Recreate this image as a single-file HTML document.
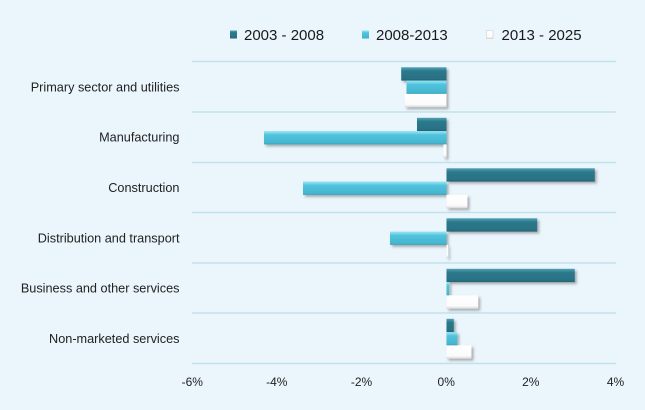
<!DOCTYPE html>
<html><head><meta charset="utf-8"><style>
html,body{margin:0;padding:0;background:#eaf5fc;}
svg{display:block;}
text{font-family:"Liberation Sans",sans-serif;}
</style></head><body>
<svg width="645" height="410" viewBox="0 0 645 410" xmlns="http://www.w3.org/2000/svg">
<defs>
<linearGradient id="gd" x1="0" y1="0" x2="0" y2="1">
<stop offset="0" stop-color="#4f9fb3"/><stop offset="0.18" stop-color="#3a8a9e"/><stop offset="0.25" stop-color="#2d798c"/><stop offset="0.85" stop-color="#2a7184"/><stop offset="1" stop-color="#226275"/>
</linearGradient>
<linearGradient id="gc" x1="0" y1="0" x2="0" y2="1">
<stop offset="0" stop-color="#95e2f1"/><stop offset="0.18" stop-color="#70d4e9"/><stop offset="0.26" stop-color="#52c4dd"/><stop offset="0.85" stop-color="#46b7d1"/><stop offset="1" stop-color="#3aa6c0"/>
</linearGradient>
<linearGradient id="gw" x1="0" y1="0" x2="0" y2="1">
<stop offset="0" stop-color="#ffffff"/><stop offset="0.8" stop-color="#fbfbfb"/><stop offset="1" stop-color="#d6d6d6"/>
</linearGradient>
<filter id="sh" x="-10%" y="-30%" width="130%" height="180%">
<feDropShadow dx="2" dy="2" stdDeviation="1.3" flood-color="#555" flood-opacity="0.45"/>
</filter>
</defs>
<rect width="645" height="410" fill="#eaf5fc"/>
<g stroke="#c3e2ec" stroke-width="1.6">
<line x1="192" y1="61.5" x2="616" y2="61.5"/>
<line x1="192" y1="112" x2="616" y2="112"/>
<line x1="192" y1="162.5" x2="616" y2="162.5"/>
<line x1="192" y1="212.5" x2="616" y2="212.5"/>
<line x1="192" y1="263" x2="616" y2="263"/>
<line x1="192" y1="313" x2="616" y2="313"/>
<line x1="192" y1="363.5" x2="616" y2="363.5"/>
</g>
<rect x="230" y="30.5" width="7" height="8" fill="url(#gd)"/>
<text x="244" y="40" font-size="15" fill="#1a1a1a">2003 - 2008</text>
<rect x="362" y="30.5" width="7" height="8" fill="url(#gc)"/>
<text x="376" y="40" font-size="15" fill="#1a1a1a">2008-2013</text>
<rect x="486.5" y="30.5" width="6.5" height="8" fill="url(#gw)" stroke="#cfcfcf" stroke-width="0.6"/>
<text x="501.5" y="40" font-size="15" fill="#1a1a1a">2013 - 2025</text>
<g font-size="12.7" fill="#222" text-anchor="end">
<text x="179.5" y="91.3">Primary sector and utilities</text>
<text x="179.5" y="141.7">Manufacturing</text>
<text x="179.5" y="192.1">Construction</text>
<text x="179.5" y="242.4">Distribution and transport</text>
<text x="179.5" y="292.7">Business and other services</text>
<text x="179.5" y="343.1">Non-marketed services</text>
</g>
<g font-size="12" fill="#222" text-anchor="middle">
<text x="192.3" y="386">-6%</text>
<text x="276.8" y="386">-4%</text>
<text x="361.5" y="386">-2%</text>
<text x="446.2" y="386">0%</text>
<text x="530.8" y="386">2%</text>
<text x="615.5" y="386">4%</text>
</g>
<g filter="url(#sh)">
<rect x="401.2" y="67.3" width="45.3" height="13.3" fill="url(#gd)"/>
<rect x="406.5" y="80.6" width="40" height="13.3" fill="url(#gc)"/>
<rect x="404.8" y="93.9" width="41.7" height="13.3" fill="url(#gw)"/>
<rect x="417" y="117.8" width="29.5" height="13.3" fill="url(#gd)"/>
<rect x="264" y="131.1" width="182.5" height="13.3" fill="url(#gc)"/>
<rect x="443.5" y="144.4" width="3" height="13.3" fill="url(#gw)"/>
<rect x="446.5" y="168.3" width="148.3" height="13.3" fill="url(#gd)"/>
<rect x="303" y="181.6" width="143.5" height="13.3" fill="url(#gc)"/>
<rect x="446.5" y="194.9" width="21" height="13.3" fill="url(#gw)"/>
<rect x="446.5" y="218.3" width="90.7" height="13.3" fill="url(#gd)"/>
<rect x="390" y="231.6" width="56.5" height="13.3" fill="url(#gc)"/>
<rect x="446.5" y="244.9" width="1.5" height="13.3" fill="url(#gw)"/>
<rect x="446.5" y="268.8" width="128.3" height="13.3" fill="url(#gd)"/>
<rect x="446.5" y="282.1" width="2.7" height="13.3" fill="url(#gc)"/>
<rect x="446.5" y="295.4" width="31.7" height="13.3" fill="url(#gw)"/>
<rect x="446.5" y="318.8" width="7.3" height="13.3" fill="url(#gd)"/>
<rect x="446.5" y="332.1" width="10.7" height="13.3" fill="url(#gc)"/>
<rect x="446.5" y="345.4" width="25" height="13.3" fill="url(#gw)"/>
</g>
</svg>
</body></html>
